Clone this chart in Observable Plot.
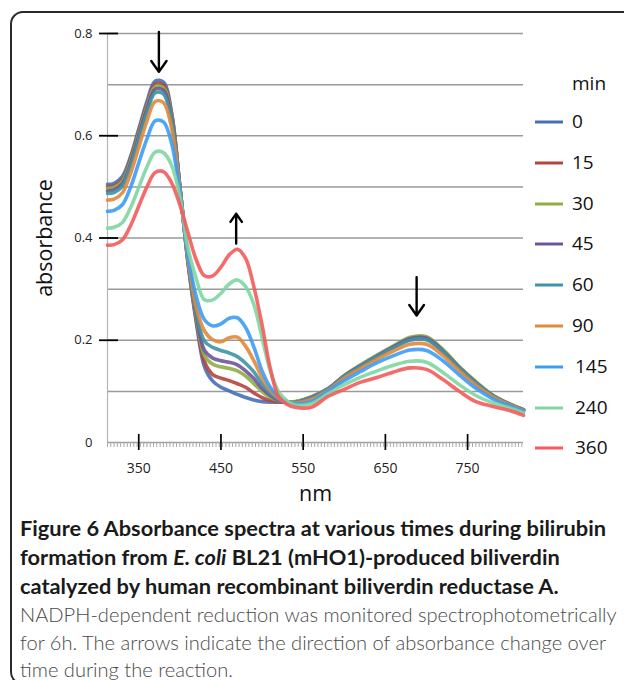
<!DOCTYPE html>
<html>
<head>
<meta charset="utf-8">
<script src="https://cdn.jsdelivr.net/npm/d3@7"></script>
<script src="https://cdn.jsdelivr.net/npm/@observablehq/plot@0.6"></script>
<style>
  html, body { margin: 0; padding: 0; background: #fff; }
  body { width: 624px; height: 680px; overflow: hidden; position: relative; font-family: "Open Sans", sans-serif; }
  #frame { position: absolute; left: 10px; top: 11px; width: 680px; height: 674px; border: 2px solid #2a2a2a; border-radius: 13px; box-sizing: border-box; }
  #chart { position: absolute; left: 0; top: 0; }
  .leg { position: absolute; font-size: 19px; color: #111; line-height: 1; }
  .cap { position: absolute; left: 20px; white-space: nowrap; font-family: Lato, "Open Sans", sans-serif; line-height: 20px; }
  .capb { font-weight: 700; font-size: 21.8px; color: #1a1a1a; }
  .capr { font-weight: 300; font-size: 20.1px; color: #4a4a4a; }
</style>
</head>
<body>
<div id="frame"></div>
<div id="chart"></div>
<div id="legend"></div>
<div class="cap capb" style="top:518px">Figure 6 Absorbance spectra at various times during bilirubin</div>
<div class="cap capb" style="top:547px">formation from <i>E. coli</i> BL21 (mHO1)-produced biliverdin</div>
<div class="cap capb" style="top:576px">catalyzed by human recombinant biliverdin reductase A.</div>
<div class="cap capr" style="top:604px">NADPH-dependent reduction was monitored spectrophotometrically</div>
<div class="cap capr" style="top:632px">for 6h. The arrows indicate the direction of absorbance change over</div>
<div class="cap capr" style="top:659px">time during the reaction.</div>
<script>
// wavelengths (nm)
const wavelengths = [312, 320, 330, 340, 350, 360, 370, 380, 390, 400, 410, 420, 430, 440, 450, 460, 470, 480, 490, 500, 510, 520, 530, 540, 560, 580, 600, 620, 640, 660, 680, 700, 720, 740, 760, 780, 800, 818];
// series labels (min) and colours
const minutes = ["0", "15", "30", "45", "60", "90", "145", "240", "360"];
const colors = ["#4670b4", "#b5443f", "#8fae45", "#6e559a", "#3f93a8", "#e08a3c", "#3c9cf5", "#7fd6a2", "#f45b5b"];
// absorbance per series
const abs0   = [.505, .507, .520, .559, .613, .667, .707, .705, .645, .500, .350, .235, .148, .120, .108, .101, .094, .088, .083, .080, .079, .079, .079, .079, .089, .105, .130, .151, .170, .188, .204, .205, .180, .147, .118, .093, .076, .064];
const abs15  = [.500, .502, .514, .554, .608, .661, .701, .699, .642, .500, .352, .240, .158, .133, .126, .121, .115, .108, .097, .088, .082, .080, .079, .079, .088, .104, .130, .150, .169, .187, .202, .203, .179, .146, .117, .092, .076, .064];
const abs30  = [.497, .499, .511, .550, .604, .657, .696, .694, .638, .500, .354, .245, .170, .153, .148, .145, .140, .130, .115, .100, .088, .082, .080, .080, .089, .105, .131, .152, .171, .189, .206, .207, .182, .148, .119, .093, .076, .064];
const abs45  = [.492, .494, .506, .545, .599, .652, .691, .689, .634, .500, .356, .250, .180, .165, .160, .157, .152, .140, .125, .106, .092, .083, .079, .078, .088, .104, .130, .150, .169, .187, .203, .204, .179, .146, .117, .092, .075, .063];
const abs60  = [.487, .489, .501, .540, .593, .645, .684, .682, .628, .500, .358, .255, .198, .186, .180, .175, .168, .155, .138, .115, .096, .085, .079, .078, .087, .104, .129, .149, .168, .185, .200, .201, .177, .145, .116, .092, .075, .063];
const abs90  = [.474, .476, .488, .526, .577, .629, .667, .665, .615, .495, .360, .265, .218, .201, .197, .205, .206, .188, .160, .127, .102, .087, .079, .077, .084, .102, .126, .145, .163, .179, .192, .192, .170, .140, .112, .090, .074, .062];
const abs145 = [.452, .454, .465, .499, .547, .594, .629, .627, .585, .490, .365, .285, .240, .228, .232, .243, .244, .225, .187, .140, .108, .090, .080, .076, .080, .100, .121, .139, .156, .170, .181, .180, .160, .132, .106, .086, .072, .061];
const abs240 = [.419, .421, .430, .459, .499, .539, .568, .567, .542, .480, .380, .320, .279, .279, .292, .310, .318, .305, .270, .205, .140, .100, .082, .074, .076, .095, .113, .128, .140, .151, .159, .157, .137, .113, .092, .078, .068, .058];
const abs360 = [.386, .387, .396, .424, .462, .500, .528, .530, .508, .465, .410, .357, .326, .326, .343, .367, .378, .360, .305, .230, .145, .090, .075, .069, .069, .090, .104, .118, .127, .138, .146, .143, .123, .100, .080, .071, .063, .053];
const seriesValues = [abs0, abs15, abs30, abs45, abs60, abs90, abs145, abs240, abs360];
// axes
const xTicks = [350, 450, 550, 650, 750];
const yTicks = [0, 0.2, 0.4, 0.6, 0.8];
const yTickLabels = ["0", "0.2", "0.4", "0.6", "0.8"];
const yGrid = [0.1, 0.2, 0.3, 0.4, 0.5, 0.6, 0.7, 0.8];
const minorTicks = d3.range(312, 819, 4);
// arrows (direction of change)
const arrowNm = [374.5, 468.5, 688];
const arrowFrom = [0.803, 0.389, 0.3235];
const arrowTo = [0.725, 0.4475, 0.2485];

const data = minutes.flatMap((m, i) => wavelengths.map((w, j) => ({nm: w, a: seriesValues[i][j], min: m})));
const arrows = arrowNm.map((x, i) => ({x, y1: arrowFrom[i], y2: arrowTo[i]}));
const noText = () => "";

const chart = Plot.plot({
  width: 624,
  height: 512,
  marginLeft: 107,
  marginRight: 101,
  marginTop: 33,
  marginBottom: 70,
  x: {domain: [wavelengths[0], wavelengths[wavelengths.length - 1]]},
  y: {domain: [0, 0.8]},
  color: {domain: minutes, range: colors},
  style: {fontFamily: "'Open Sans', sans-serif", fontSize: "13px", color: "#222", background: "transparent", overflow: "visible"},
  marks: [
    Plot.gridY(yGrid, {stroke: "#9a9a9a", strokeOpacity: 1, strokeWidth: 1.5}),
    Plot.ruleX([wavelengths[0]], {stroke: "#b5b5b5", strokeWidth: 1.2}),
    Plot.ruleY([0], {stroke: "#a0a0a0", strokeWidth: 1.5}),
    Plot.axisX(minorTicks, {tickSize: 5, tickFormat: noText, stroke: "#a8a8a8", strokeWidth: 1, label: null}),
    Plot.axisX(xTicks, {tickSize: 16, dy: -8, tickFormat: noText, stroke: "#000", strokeWidth: 1.7, label: null}),
    Plot.axisX(xTicks, {tickSize: 0, tickPadding: 21, fontSize: 14, label: null}),
    Plot.axisY(yTicks.slice(1), {tickSize: 19, dx: 11, tickFormat: noText, stroke: "#000", strokeWidth: 1.8, label: null}),
    Plot.axisY(yTicks, {tickSize: 0, tickPadding: 15, fontSize: 13, tickFormat: d => yTickLabels[yTicks.indexOf(d)], label: null}),
    Plot.line(data, {x: "nm", y: "a", z: "min", stroke: "min", strokeWidth: 3.6, strokeOpacity: 0.9, curve: "catmull-rom"}),
    Plot.arrow(arrows, {x: "x", y1: "y1", y2: "y2", stroke: "#000", strokeWidth: 2.4, headLength: 11, headAngle: 70}),
    Plot.text(["nm"], {frameAnchor: "bottom", dy: 58, fontSize: 21.5, fill: "#111"}),
    Plot.text(["absorbance"], {frameAnchor: "left", textAnchor: "middle", dx: -62, rotate: -90, fontSize: 21.5, fill: "#111"})
  ]
});
document.getElementById("chart").appendChild(chart);

// legend
const legend = document.getElementById("legend");
const title = document.createElement("div");
title.className = "leg";
title.style.left = "572px";
title.style.top = "74px";
title.textContent = "min";
legend.appendChild(title);
minutes.forEach((m, i) => {
  const cy = 122 + i * 40.8;
  const sw = document.createElementNS("http://www.w3.org/2000/svg", "svg");
  sw.setAttribute("width", 30); sw.setAttribute("height", 6);
  sw.style.position = "absolute"; sw.style.left = "534px"; sw.style.top = (cy - 3) + "px";
  const ln = document.createElementNS("http://www.w3.org/2000/svg", "line");
  ln.setAttribute("x1", 1); ln.setAttribute("x2", 29); ln.setAttribute("y1", 3); ln.setAttribute("y2", 3);
  ln.setAttribute("stroke", colors[i]); ln.setAttribute("stroke-width", 3);
  sw.appendChild(ln);
  legend.appendChild(sw);
  const t = document.createElement("div");
  t.className = "leg";
  t.style.left = (572 + (m.length > 2 ? 3 : 0)) + "px";
  t.style.top = (cy - 10) + "px";
  t.textContent = m;
  legend.appendChild(t);
});
</script>
</body>
</html>
